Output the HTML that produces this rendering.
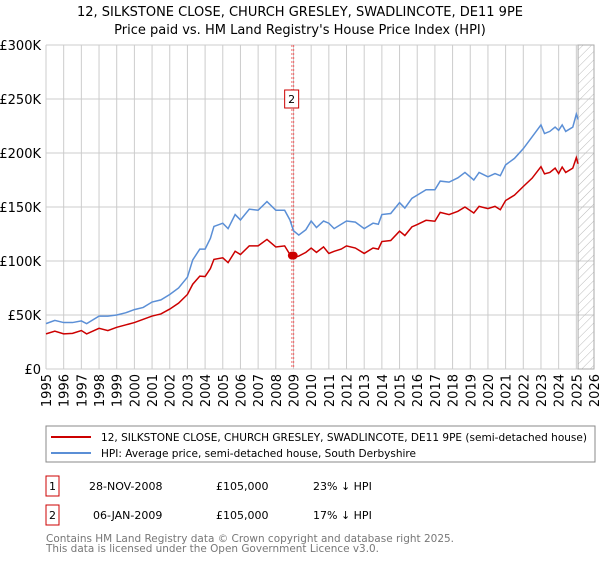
<!DOCTYPE html>
<html><head><meta charset="utf-8"><style>
body{margin:0;background:#fff;font-family:"Liberation Sans","DejaVu Sans",sans-serif;}
svg text{font-family:"DejaVu Sans","Liberation Sans",sans-serif;}
</style></head><body>
<svg id="c" width="600" height="560" xmlns="http://www.w3.org/2000/svg">
<defs><pattern id="h" width="6" height="6" patternUnits="userSpaceOnUse" patternTransform="rotate(45)"><line x1="0" y1="0" x2="0" y2="6" stroke="#bbb" stroke-width="1"/></pattern></defs>
<text x="300" y="16" text-anchor="middle" font-size="13">12, SILKSTONE CLOSE, CHURCH GRESLEY, SWADLINCOTE, DE11 9PE</text>
<text x="300" y="34" text-anchor="middle" font-size="13">Price paid vs. HM Land Registry's House Price Index (HPI)</text>
<g id="grid"></g><g id="marks"></g>
<rect x="46" y="426" width="549" height="36" fill="#fff" stroke="#888"/>
<line x1="51" y1="437" x2="91" y2="437" stroke="#cc0000" stroke-width="2"/>
<text x="101" y="441" font-size="10.5" textLength="486" lengthAdjust="spacingAndGlyphs">12, SILKSTONE CLOSE, CHURCH GRESLEY, SWADLINCOTE, DE11 9PE (semi-detached house)</text>
<line x1="51" y1="453" x2="91" y2="453" stroke="#5b8fd6" stroke-width="2"/>
<text x="101" y="457" font-size="10.5" textLength="315" lengthAdjust="spacingAndGlyphs">HPI: Average price, semi-detached house, South Derbyshire</text>
<g font-size="11">
<rect x="46" y="476" width="13" height="20" fill="#fff" stroke="#cc0000"/><text x="52.5" y="490" text-anchor="middle">1</text>
<text x="89" y="490">28-NOV-2008</text><text x="216" y="490">£105,000</text><text x="313" y="490">23% ↓ HPI</text>
<rect x="46" y="505" width="13" height="20" fill="#fff" stroke="#cc0000"/><text x="52.5" y="519" text-anchor="middle">2</text>
<text x="93" y="519">06-JAN-2009</text><text x="216" y="519">£105,000</text><text x="313" y="519">17% ↓ HPI</text>
</g>
<text x="46" y="542" font-size="11" fill="#777" textLength="408" lengthAdjust="spacingAndGlyphs">Contains HM Land Registry data © Crown copyright and database right 2025.</text>
<text x="46" y="552" font-size="11" fill="#777" textLength="333" lengthAdjust="spacingAndGlyphs">This data is licensed under the Open Government Licence v3.0.</text>
</svg>
<script>
const yTicks=[0,50,100,150,200,250,300];
const yTickLabels=["£0","£50K","£100K","£150K","£200K","£250K","£300K"];
const xYears=[1995,1996,1997,1998,1999,2000,2001,2002,2003,2004,2005,2006,2007,2008,2009,2010,2011,2012,2013,2014,2015,2016,2017,2018,2019,2020,2021,2022,2023,2024,2025,2026];
const hpiT=[1995,1995.5,1996,1996.5,1997,1997.3,1998,1998.5,1999,1999.5,2000,2000.5,2001,2001.5,2002,2002.5,2003,2003.3,2003.7,2004,2004.3,2004.5,2005,2005.3,2005.7,2006,2006.5,2007,2007.5,2008,2008.5,2008.8,2009,2009.3,2009.7,2010,2010.3,2010.7,2011,2011.3,2011.7,2012,2012.5,2013,2013.5,2013.8,2014,2014.5,2015,2015.3,2015.7,2016,2016.5,2017,2017.3,2017.8,2018.3,2018.7,2019.2,2019.5,2020,2020.4,2020.7,2021,2021.5,2022,2022.5,2023,2023.2,2023.5,2023.8,2024,2024.2,2024.4,2024.8,2025,2025.1];
const hpiV=[42,45,43,43,44.5,42,49,49,50,52,55,57,62,64,69,75,85,101,111,111,121,132,135,130,143,138,148,147,155,147,147,138,128,124,129,137,131,137,135,130,134,137,136,130,135,134,143,144,154,149,158,161,166,166,174,173,177,182,175,182,178,181,179,189,195,204,215,226,218,220,224,221,226,220,224,236,231];
const priceV=[32.5,35,32.5,33,35.6,32.5,37.7,35.6,38.6,40.8,43,46,49,51,55.5,61,69,78.5,86,85.6,93,101.5,103,98.5,109,106,114,114,120,113,114,106,103,104.6,108,112,108,113,107,109,111,114,112,107,112,111,118,119,127.6,123.6,131.6,133.7,137.7,136.8,145,143,146,150,144.5,150.6,148.5,150.6,147.5,156,161,169,176.7,187.4,180.7,182,186,181,187,182,186,195.7,190];
const saleT=[2008.91,2009.01];
const saleV=[105,105];
const X0=46,X1=594,Y0=369,Y1=45;
const xs=t=>X0+(t-1995)/(2026-1995)*(X1-X0);
const ys=v=>Y0-v/300*(Y0-Y1);
const NS="http://www.w3.org/2000/svg";
function mk(tag,attrs,parent,txt){const e=document.createElementNS(NS,tag);for(const k in attrs)e.setAttribute(k,attrs[k]);if(txt!==undefined)e.textContent=txt;parent.appendChild(e);return e;}
const g=document.getElementById('grid'),m=document.getElementById('marks');
yTicks.forEach((v,i)=>{
 const l=mk('line',{x1:X0,x2:X1,y1:ys(v),y2:ys(v),stroke:'#ccc'},g);
 
 
 const t=mk('text',{x:X0-5,y:ys(v)+5,'text-anchor':'end','font-size':'13'},g,yTickLabels[i]);
 
 
});
xYears.forEach(y=>{
 const l=mk('line',{x1:xs(y),x2:xs(y),y1:Y1,y2:Y0,stroke:'#ccc'},g);
 
 
 const t=mk('text',{x:0,y:0,'text-anchor':'end','font-size':'13',transform:`translate(${xs(y)+5},374) rotate(-90)`},g,String(y));
 
 
});
const hr=mk('rect',{x:xs(2025.1),y:Y1,width:X1-xs(2025.1),height:Y0-Y1,fill:'url(#h)',stroke:'#aaa'},g);


const vl=mk('line',{x1:xs(2008.91),x2:xs(2008.91),y1:Y1,y2:Y0,stroke:'#e66','stroke-dasharray':'2,2'},m);


const vl2=mk('line',{x1:xs(2009.01),x2:xs(2009.01),y1:Y1,y2:Y0,stroke:'#e66','stroke-dasharray':'2,2'},m);


const hp=mk('polyline',{points:hpiT.map((t,i)=>xs(t)+','+ys(hpiV[i])).join(' '),fill:'none',stroke:'#5b8fd6','stroke-width':'1.5'},m);


const pp=mk('polyline',{points:hpiT.map((t,i)=>xs(t)+','+ys(priceV[i])).join(' '),fill:'none',stroke:'#cc0000','stroke-width':'1.5'},m);


saleT.forEach((t,i)=>{
 const c=mk('circle',{cx:xs(t),cy:ys(saleV[i]),r:4,fill:'#cc0000'},m);
 
 
});
const bx=mk('rect',{x:xs(2009.01)-9,y:90,width:14,height:18,fill:'#fff',stroke:'#cc0000'},m);


const bt=mk('text',{x:xs(2009.01)-2,y:103,'text-anchor':'middle','font-size':'11'},m,'2');


</script>
</body></html>
